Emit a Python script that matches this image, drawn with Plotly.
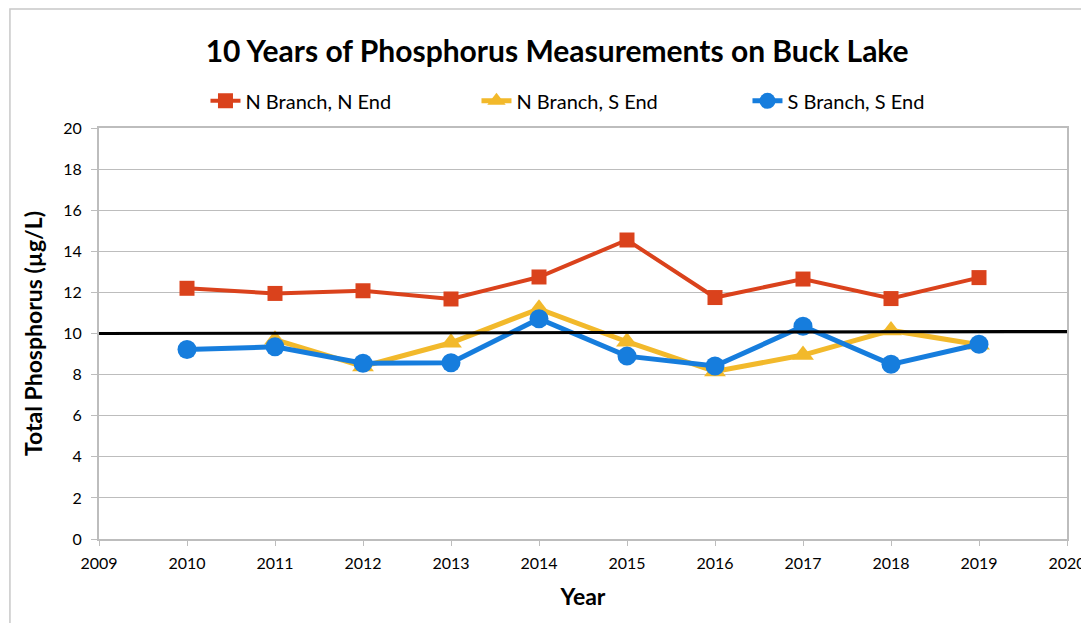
import plotly.graph_objects as go

years = [2010, 2011, 2012, 2013, 2014, 2015, 2016, 2017, 2018, 2019]
n_branch_n_end = [12.2, 11.95, 12.08, 11.68, 12.75, 14.55, 11.75, 12.65, 11.7, 12.72]
n_branch_s_end = [None, 9.7, 8.4, 9.55, 11.2, 9.6, 8.15, 8.95, 10.15, 9.45]
s_branch_s_end = [9.22, 9.35, 8.55, 8.58, 10.72, 8.9, 8.42, 10.35, 8.5, 9.48]

limit_x = [2009, 2020]
limit_y = [10.0, 10.1]

RED = "#DA421C"
YELLOW = "#F2B92B"
BLUE = "#167DDD"
FONT = "Lato"

fig = go.Figure()
fig.add_trace(go.Scatter(
    x=years, y=n_branch_n_end, name="N Branch, N End", mode="lines+markers",
    line=dict(color=RED, width=4), marker=dict(symbol="square", size=15, color=RED),
))
fig.add_trace(go.Scatter(
    x=years, y=n_branch_s_end, name="N Branch, S End", mode="lines+markers",
    line=dict(color=YELLOW, width=5), marker=dict(symbol="triangle-up", size=19, color=YELLOW),
))
fig.add_trace(go.Scatter(
    x=years, y=s_branch_s_end, name="S Branch, S End", mode="lines+markers",
    line=dict(color=BLUE, width=5), marker=dict(symbol="circle", size=19, color=BLUE),
))
fig.add_trace(go.Scatter(
    x=limit_x, y=limit_y, mode="lines", showlegend=False,
    line=dict(color="black", width=3), hoverinfo="skip", cliponaxis=False,
))

# the page body has an 8px margin, so the figure is a little smaller than the window
fig.update_layout(
    width=1081, height=615,
    margin=dict(l=91, r=22, t=120, b=84, autoexpand=False),
    paper_bgcolor="white", plot_bgcolor="white",
    font=dict(family=FONT, size=16, color="black"),
    title=dict(
        text="<b>10 Years of Phosphorus Measurements on Buck Lake</b>",
        x=0.508, xanchor="center", y=0.93, yanchor="middle",
        font=dict(size=30, family=FONT),
    ),
    legend=dict(
        orientation="h", x=0.11, xanchor="left", y=1.066, yanchor="middle",
        font=dict(size=20, family=FONT), entrywidth=226, entrywidthmode="pixels",
        itemwidth=30, tracegroupgap=0,
    ),
    shapes=[dict(
        type="rect", xref="paper", yref="paper",
        x0=-0.092, x1=1.05, y0=-0.3, y1=1.2895,
        line=dict(color="#C8C8C8", width=1.5),
    )],
)
fig.update_xaxes(
    range=[2009, 2020], dtick=1, tick0=2009, showgrid=False,
    showline=True, linecolor="#BDBDBD", linewidth=2, mirror=True,
    ticks="outside", ticklen=5, tickcolor="#BDBDBD", ticklabelstandoff=4,
    tickfont=dict(size=16),
    title=dict(text="<b>Year</b>", font=dict(size=23), standoff=18),
)
fig.update_yaxes(
    range=[0, 20], dtick=2, showgrid=True, gridcolor="#BDBDBD", gridwidth=1,
    showline=True, linecolor="#BDBDBD", linewidth=2, mirror=True,
    ticks="outside", ticklen=6, tickcolor="#BDBDBD", zeroline=False, ticklabelstandoff=6,
    tickfont=dict(size=16),
    title=dict(text="<b>Total Phosphorus (µg/L)</b>", font=dict(size=23), standoff=14),
)

fig.write_html("out.html")
